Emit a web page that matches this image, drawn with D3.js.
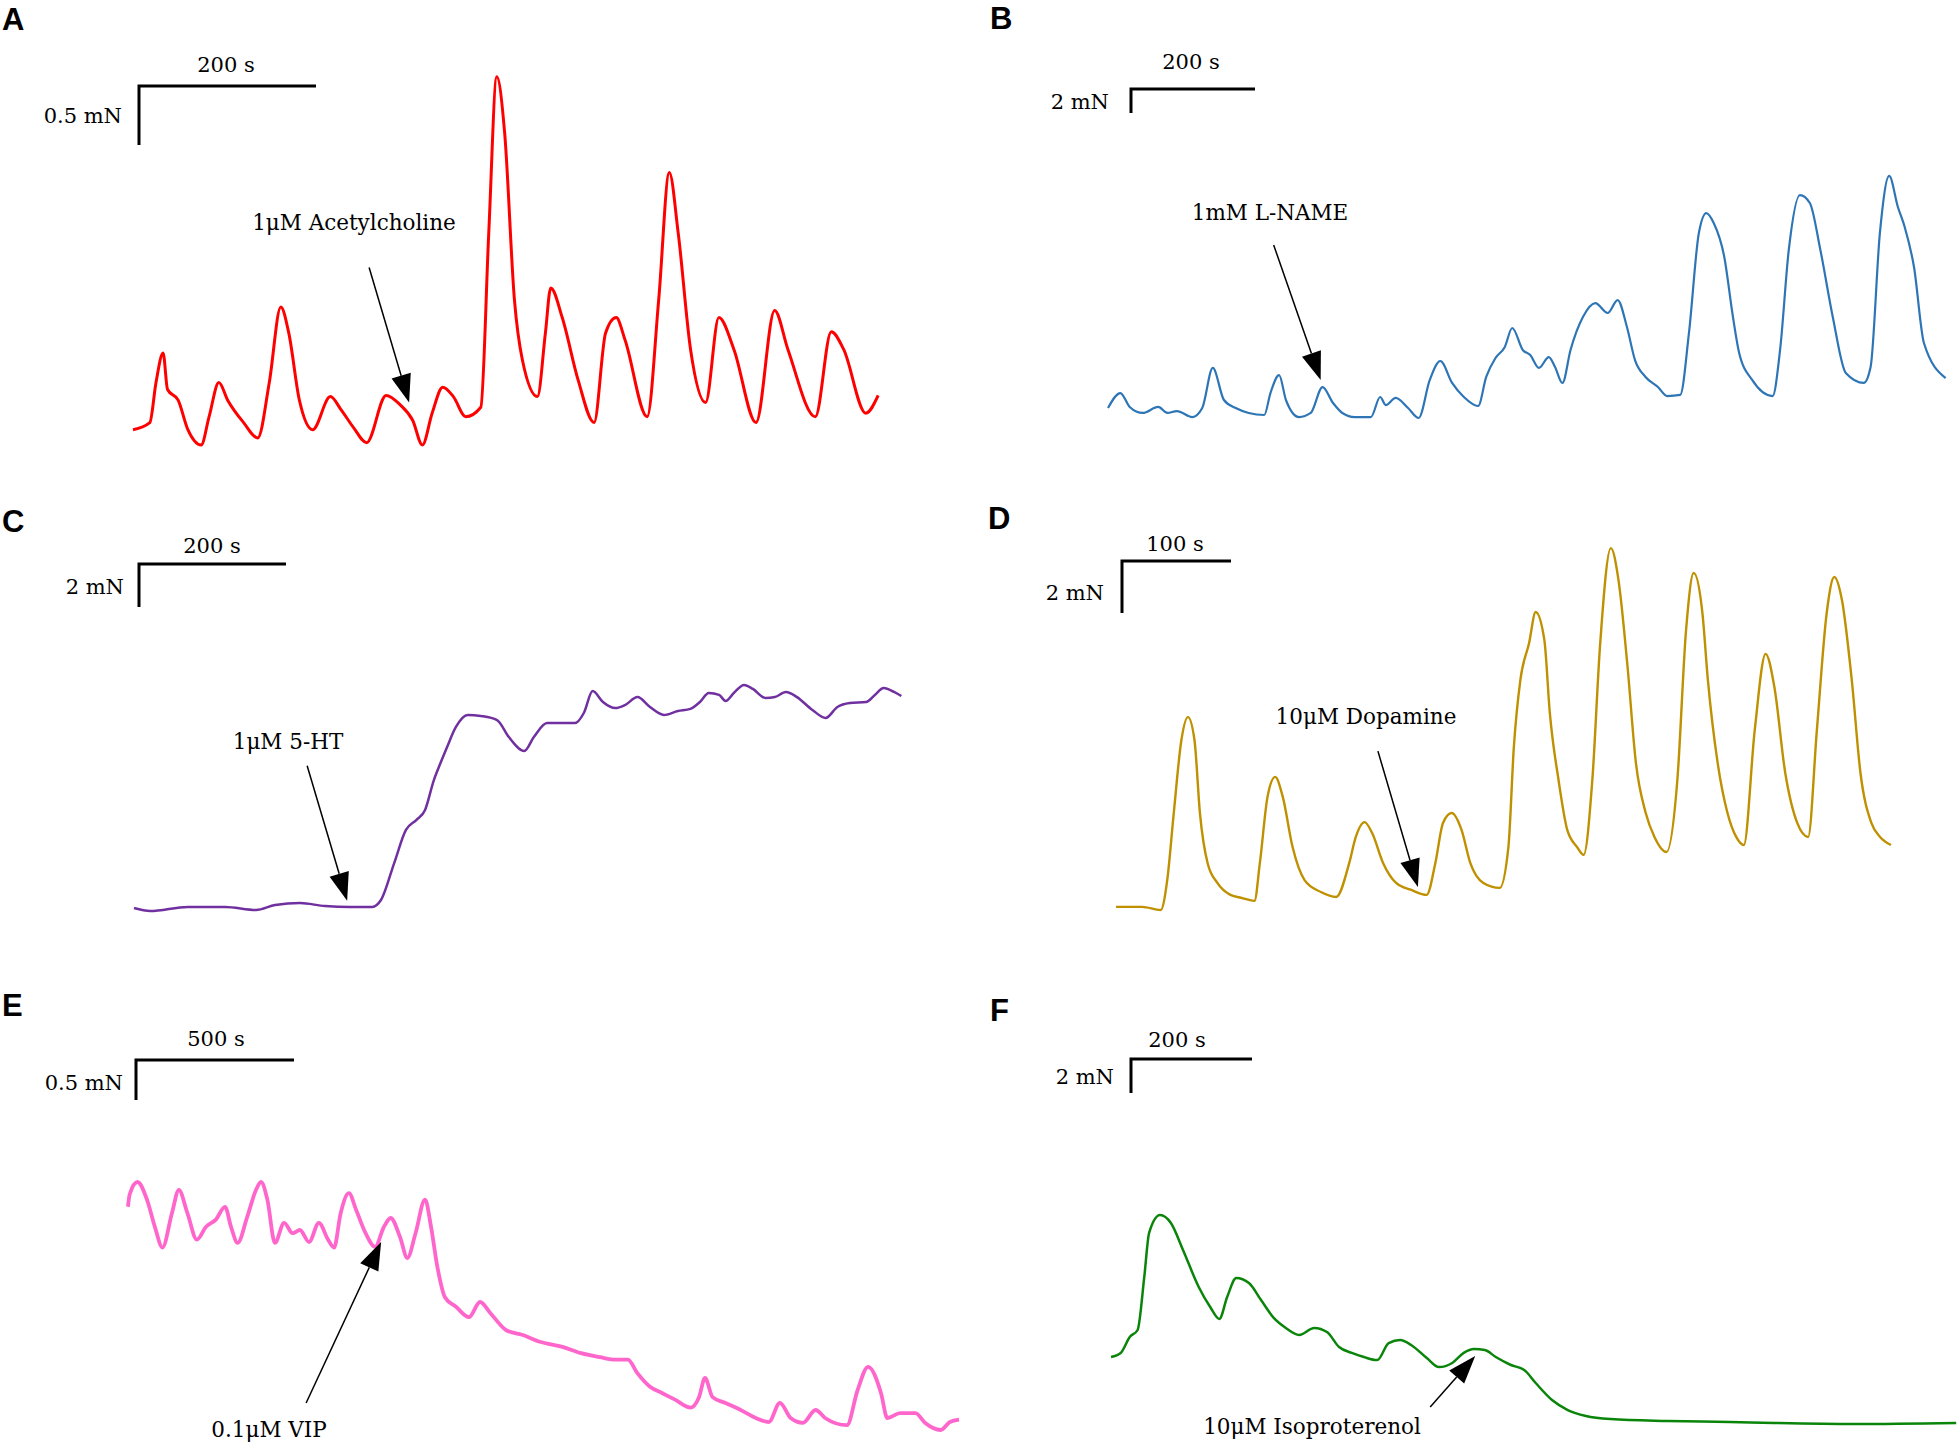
<!DOCTYPE html>
<html>
<head>
<meta charset="utf-8">
<script src="https://cdn.jsdelivr.net/npm/d3@7"></script>
<style>
  html, body { margin: 0; padding: 0; background: #fff; }
  svg { display: block; }
</style>
</head>
<body>
<svg id="chart" width="1960" height="1445"></svg>
<script>
// ---------------- DATA (time in s, force in mN) ----------------
// Panel A – 1µM Acetylcholine
const tA = [0,19,26,34,39,51,62,77,86,97,107,125,141,154,167,176,188,203,223,235,249,264,286,302,316,327,338,350,362,376,393,402,411,420,431,440,457,466,472,485,503,521,534,546,556,581,594,606,616,630,647,662,679,704,725,740,771,789,803,828,842];
const fA = [0.13,0.19,0.53,0.78,0.47,0.38,0.13,0.00,0.24,0.53,0.38,0.19,0.06,0.53,1.17,0.95,0.38,0.13,0.41,0.30,0.15,0.02,0.42,0.34,0.21,0.00,0.27,0.49,0.41,0.24,0.32,1.80,3.12,2.64,1.23,0.72,0.41,0.95,1.33,1.08,0.55,0.19,0.95,1.08,0.89,0.24,1.23,2.31,1.80,0.81,0.36,1.08,0.81,0.19,1.14,0.81,0.24,0.96,0.81,0.27,0.42];

// Panel B – 1mM L-NAME
const tB = [0,20,35,56,81,96,111,136,152,169,187,206,227,252,262,276,287,308,327,346,363,378,398,424,439,448,464,484,501,519,536,555,574,597,610,625,640,652,669,681,695,711,721,733,746,766,786,806,822,837,850,867,887,902,923,937,953,965,977,994,1008,1018,1039,1072,1084,1098,1116,1132,1149,1169,1190,1219,1230,1245,1260,1274,1285,1300,1316,1351];
const fB = [0.83,2.08,0.92,0.42,0.92,0.42,0.58,0.08,0.83,4.17,1.50,0.83,0.42,0.25,2.08,3.58,1.50,0.08,0.42,2.58,1.25,0.42,0.08,0.08,1.75,1.08,1.67,0.83,0.00,3.17,4.75,2.92,1.75,1.00,3.42,5.00,5.92,7.50,5.67,5.25,4.17,5.08,4.25,2.92,5.67,8.42,9.58,8.75,9.83,7.58,4.83,3.42,2.58,1.83,1.92,7.08,15.42,17.08,16.25,13.42,8.42,5.42,3.17,1.83,5.67,14.00,18.58,17.92,14.00,8.42,3.75,2.92,4.25,15.42,20.17,17.58,15.92,12.58,6.25,3.33];

// Panel C – 1µM 5-HT
const tC = [0,22,73,124,166,192,226,260,294,324,336,354,370,384,396,408,417,426,438,454,472,494,510,531,544,562,583,600,612,624,638,655,668,685,702,721,740,757,770,782,796,805,816,830,842,859,872,887,902,923,941,957,974,996,1008,1020,1034,1044];
const fC = [0.14,0.00,0.19,0.19,0.05,0.28,0.37,0.23,0.19,0.19,0.51,2.23,3.77,4.23,4.70,6.09,6.88,7.63,8.56,9.12,9.07,8.88,8.09,7.44,8.09,8.74,8.74,8.74,9.21,10.23,9.72,9.44,9.58,9.95,9.49,9.12,9.30,9.40,9.72,10.14,10.05,9.77,10.14,10.51,10.33,9.91,9.95,10.19,9.95,9.35,8.98,9.49,9.67,9.72,10.05,10.37,10.19,10.00];

// Panel D – 10µM Dopamine
const tD = [0,24,41,47,53,60,66,72,77,84,93,105,116,127,132,139,146,153,162,173,188,202,214,220,228,235,245,257,271,285,293,300,308,317,325,337,352,360,365,371,379,385,393,398,406,414,423,429,437,444,454,461,469,477,486,494,505,515,523,530,538,543,552,561,569,576,586,596,604,614,625,635,643,652,659,666,675,683,693,701,711];
const fD = [0.12,0.12,0.00,1.15,3.73,6.54,7.42,6.54,3.73,1.81,1.04,0.58,0.46,0.35,1.81,4.35,5.12,4.35,2.42,1.15,0.69,0.50,1.81,2.81,3.38,2.96,1.81,1.04,0.77,0.58,1.81,3.35,3.73,3.08,1.81,1.04,0.85,2.42,6.27,8.85,10.27,11.46,10.38,7.58,5.00,3.08,2.42,2.12,5.00,10.12,13.92,12.69,9.50,5.65,3.73,2.81,2.23,5.00,10.77,12.96,11.42,8.85,5.65,3.73,2.81,2.50,6.92,9.85,8.58,5.27,3.35,2.81,6.92,11.42,12.81,11.92,8.85,5.27,3.35,2.81,2.50];

// Panel E – 0.1µM VIP
const tE = [0,5,30,60,85,109,139,161,188,218,247,278,307,326,347,377,405,421,441,465,494,521,544,573,604,633,652,673,699,722,752,782,810,831,861,884,910,940,959,979,1003,1038,1079,1114,1147,1196,1247,1306,1375,1434,1494,1543,1582,1612,1652,1691,1731,1780,1807,1826,1850,1889,1939,1987,2028,2063,2097,2136,2176,2206,2275,2309,2342,2383,2403,2443,2492,2522,2572,2601,2630];
const fE = [2.79,2.94,3.10,2.88,2.54,2.28,2.71,3.00,2.71,2.38,2.54,2.63,2.79,2.54,2.34,2.66,3.00,3.10,2.88,2.34,2.59,2.46,2.50,2.35,2.59,2.38,2.28,2.71,2.96,2.75,2.46,2.29,2.54,2.65,2.41,2.15,2.46,2.88,2.54,2.04,1.66,1.54,1.41,1.60,1.46,1.25,1.19,1.10,1.04,0.96,0.91,0.88,0.88,0.71,0.54,0.46,0.38,0.28,0.41,0.65,0.41,0.34,0.25,0.15,0.10,0.34,0.15,0.09,0.25,0.15,0.06,0.50,0.79,0.46,0.15,0.21,0.21,0.09,0.00,0.10,0.13];

// Panel F – 10µM Isoproterenol
const tF = [0,16,31,44,55,63,81,99,119,145,164,179,192,207,228,248,269,289,311,336,357,377,398,418,440,459,478,496,522,542,564,583,600,618,636,661,683,702,729,755,785,826,920,1023,1096,1230,1397];
const fF = [3.94,4.18,5.12,5.53,8.65,11.24,12.29,11.82,10.24,8.06,6.88,6.18,7.47,8.59,8.29,7.29,6.24,5.65,5.24,5.65,5.41,4.53,4.18,3.94,3.76,4.76,4.94,4.65,3.88,3.35,3.59,4.18,4.41,4.35,3.94,3.47,3.18,2.41,1.41,0.82,0.47,0.29,0.18,0.12,0.06,0.00,0.06];

// Panel letters, scale bars and drug annotations
const panelLetters   = ["A", "B", "C", "D", "E", "F"];
const barTimes       = [200, 200, 200, 100, 500, 200];          // s
const barForces      = [0.5, 2, 2, 2, 0.5, 2];                  // mN
const barTimeLabels  = ["200 s", "200 s", "200 s", "100 s", "500 s", "200 s"];
const barForceLabels = ["0.5 mN", "2 mN", "2 mN", "2 mN", "0.5 mN", "2 mN"];
const drugLabels     = ["1μM Acetylcholine", "1mM L-NAME", "1μM 5-HT", "10μM Dopamine", "0.1μM VIP", "10μM Isoproterenol"];
const drugTimes      = [312, 343, 290, 277, 801, 602];          // s, arrow tip
const drugForces     = [0.36, 3.17, 0.48, 0.88, 2.35, 4.0];     // mN, arrow tip

const seriesT = [tA, tB, tC, tD, tE, tF];
const seriesF = [fA, fB, fC, fD, fE, fF];

// ---------------- LAYOUT / STYLE ----------------
const layout = [
  { color: "#ff0000", width: 3.0,
    letter: [2, 30], x0: 133, y0: 445, pxS: 0.885, pxF: 118,
    bar: [139, 86], timeTxt: [226, 72], forceTxt: [122, 123],
    label: [354, 230], tail: [-40, -135] },
  { color: "#2e75b6", width: 2.2,
    letter: [990, 29], x0: 1108, y0: 418, pxS: 0.62, pxF: 12,
    bar: [1131, 89], timeTxt: [1191, 69], forceTxt: [1109, 109],
    label: [1270, 220], tail: [-47, -135] },
  { color: "#7030a0", width: 2.5,
    letter: [2, 532], x0: 134, y0: 911, pxS: 0.735, pxF: 21.5,
    bar: [139, 564], timeTxt: [212, 553], forceTxt: [124, 594],
    label: [288, 749], tail: [-40, -135] },
  { color: "#bf9000", width: 2.4,
    letter: [988, 529], x0: 1116, y0: 910, pxS: 1.09, pxF: 26,
    bar: [1122, 561], timeTxt: [1175, 551], forceTxt: [1104, 600],
    label: [1366, 724], tail: [-40, -136] },
  { color: "#ff66cc", width: 3.8,
    letter: [2, 1016], x0: 128, y0: 1430, pxS: 0.316, pxF: 80,
    bar: [136, 1060], timeTxt: [216, 1046], forceTxt: [123, 1090],
    label: [269, 1437], tail: [-75, 161] },
  { color: "#0a850a", width: 2.5,
    letter: [990, 1021], x0: 1111, y0: 1424, pxS: 0.605, pxF: 17,
    bar: [1131, 1059], timeTxt: [1177, 1047], forceTxt: [1114, 1084],
    label: [1312, 1434], tail: [-45, 51] }
];

const serif = "'DejaVu Serif', 'Liberation Serif', serif";
const svg = d3.select("#chart");

layout.forEach((L, i) => {
  const T = seriesT[i], F = seriesF[i];
  const tMax = d3.max(T), fMax = d3.max(F);
  const x = d3.scaleLinear().domain([0, tMax]).range([L.x0, L.x0 + tMax * L.pxS]);
  const y = d3.scaleLinear().domain([0, fMax]).range([L.y0, L.y0 - fMax * L.pxF]);
  const g = svg.append("g").attr("class", "panel-" + panelLetters[i]);

  // panel letter
  g.append("text")
    .attr("x", L.letter[0]).attr("y", L.letter[1])
    .attr("font-family", "'Liberation Sans', Arial, sans-serif")
    .attr("font-weight", 700).attr("font-size", 31)
    .text(panelLetters[i]);

  // scale bar (lengths through the scales)
  const hLen = x(barTimes[i]) - x(0);
  const vLen = y(0) - y(barForces[i]);
  const [bx, by] = L.bar;
  g.append("path")
    .attr("d", `M${bx},${by + vLen} V${by} H${bx + hLen}`)
    .attr("fill", "none").attr("stroke", "#000").attr("stroke-width", 3);
  g.append("text")
    .attr("x", L.timeTxt[0]).attr("y", L.timeTxt[1])
    .attr("text-anchor", "middle")
    .attr("font-family", serif).attr("font-size", 21)
    .text(barTimeLabels[i]);
  g.append("text")
    .attr("x", L.forceTxt[0]).attr("y", L.forceTxt[1])
    .attr("text-anchor", "end")
    .attr("font-family", serif).attr("font-size", 21)
    .text(barForceLabels[i]);

  // trace
  const line = d3.line().x((d, k) => x(T[k])).y((d, k) => y(F[k])).curve(d3.curveMonotoneX);
  g.append("path")
    .attr("d", line(F))
    .attr("fill", "none").attr("stroke", L.color)
    .attr("stroke-width", L.width).attr("stroke-linejoin", "round");

  // drug annotation arrow
  const tipX = x(drugTimes[i]), tipY = y(drugForces[i]);
  const tailX = tipX + L.tail[0], tailY = tipY + L.tail[1];
  const dx = tipX - tailX, dy = tipY - tailY, len = Math.hypot(dx, dy);
  const ux = dx / len, uy = dy / len;
  const headL = 28, headW = 10;
  const bxH = tipX - ux * headL, byH = tipY - uy * headL;
  g.append("line")
    .attr("x1", tailX).attr("y1", tailY).attr("x2", bxH).attr("y2", byH)
    .attr("stroke", "#000").attr("stroke-width", 1.5);
  g.append("path")
    .attr("d", `M${tipX},${tipY} L${bxH - uy * headW},${byH + ux * headW} L${bxH + uy * headW},${byH - ux * headW} Z`)
    .attr("fill", "#000");
  g.append("text")
    .attr("x", L.label[0]).attr("y", L.label[1])
    .attr("text-anchor", "middle")
    .attr("font-family", serif).attr("font-size", 21.5)
    .text(drugLabels[i]);
});
</script>
</body>
</html>
